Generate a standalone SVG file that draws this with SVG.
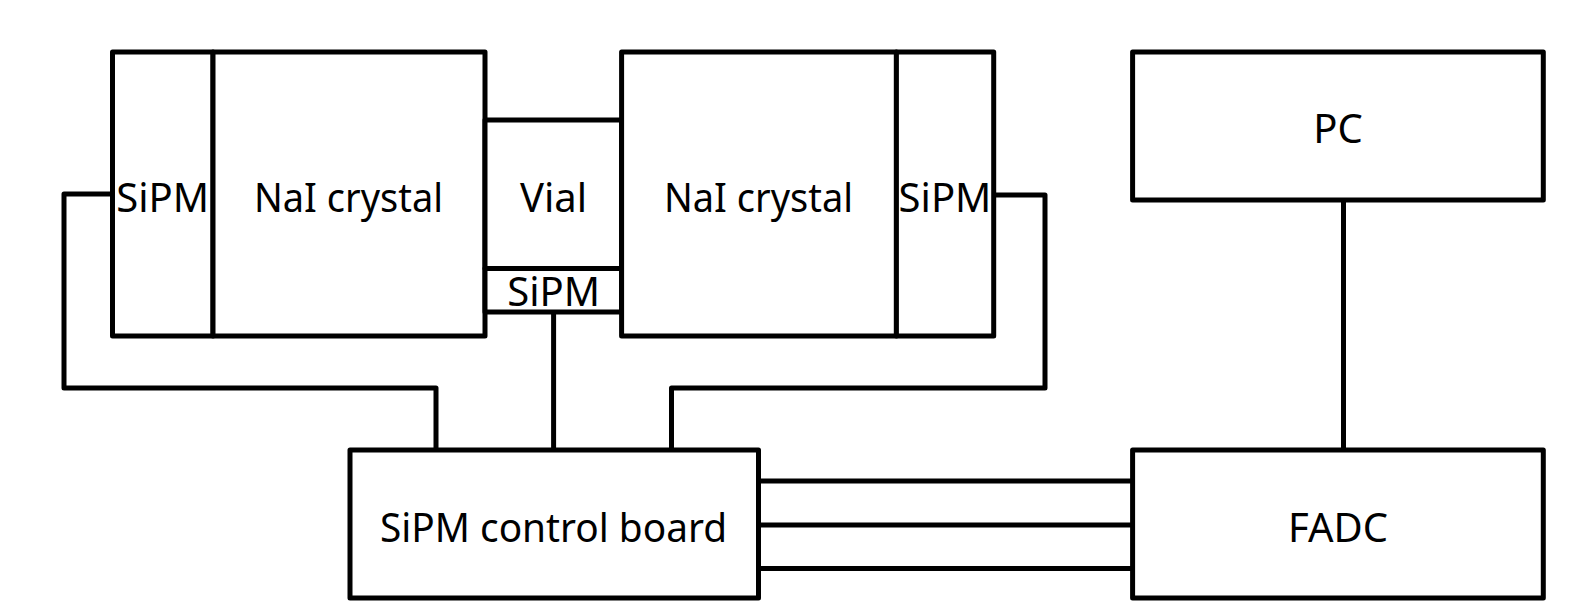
<svg xmlns="http://www.w3.org/2000/svg" width="1590" height="613" viewBox="0 0 1590 613">
<style>
.b{fill:#fff;stroke:#000;stroke-width:5;stroke-linejoin:round}
.w{fill:none;stroke:#000;stroke-width:5;stroke-linejoin:round}
text{font-family:"Noto Sans","Open Sans",sans-serif;font-size:40px;fill:#000;text-anchor:middle}
</style>
<rect width="1590" height="613" fill="#fff"/>
<g id="connectors">
<path class="w" d="M112.5,194 H64 V388 H436 V450"/>
<path class="w" d="M553.6,312 V450"/>
<path class="w" d="M993.7,195 H1045 V388 H671.5 V450"/>
<path class="w" d="M758.5,481 H1132.6"/>
<path class="w" d="M758.5,525 H1132.6"/>
<path class="w" d="M758.5,568.5 H1132.6"/>
<path class="w" d="M1343.5,200 V450"/>
</g>
<g id="sipm-left"><rect class="b" x="112.5" y="52" width="100.5" height="284"/><text x="162.7" y="212">SiPM</text></g>
<g id="nai-left"><rect class="b" x="213" y="52" width="272" height="284"/><text x="348.5" y="212" textLength="189" lengthAdjust="spacingAndGlyphs">NaI crystal</text></g>
<g id="vial"><rect class="b" x="485" y="120" width="136.6" height="148.4"/><text x="553.6" y="212">Vial</text></g>
<g id="sipm-mid"><rect class="b" x="485" y="268.4" width="136.6" height="43.6"/><text x="553.6" y="306">SiPM</text></g>
<g id="nai-right"><rect class="b" x="621.6" y="52" width="274.8" height="284"/><text x="758.5" y="212" textLength="189" lengthAdjust="spacingAndGlyphs">NaI crystal</text></g>
<g id="sipm-right"><rect class="b" x="896.4" y="52" width="97.3" height="284"/><text x="945" y="212">SiPM</text></g>
<g id="pc"><rect class="b" x="1132.6" y="52" width="410.7" height="148"/><text x="1338" y="143">PC</text></g>
<g id="control"><rect class="b" x="350" y="450" width="408.5" height="148"/><text x="553.5" y="542" textLength="347" lengthAdjust="spacingAndGlyphs">SiPM control board</text></g>
<g id="fadc"><rect class="b" x="1132.6" y="450" width="410.7" height="148"/><text x="1338" y="542">FADC</text></g>
</svg>
